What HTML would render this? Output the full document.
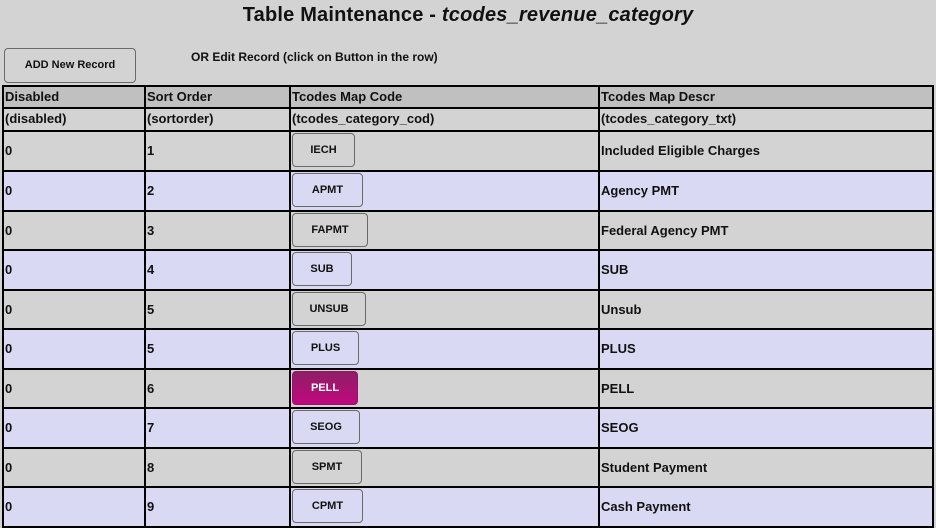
<!DOCTYPE html>
<html><head><style>
body{margin:0;width:936px;height:528px;background:#d3d3d3;font-family:"Liberation Sans",sans-serif;position:relative;overflow:hidden;color:#111}
.a{position:absolute}
.t{font-size:13px;font-weight:bold;white-space:nowrap}
.btn{position:absolute;left:292px;height:34px;border:1px solid #6a6a6a;border-radius:4px;box-sizing:border-box;font-size:11px;font-weight:bold;text-align:center;line-height:32px}
.h{position:absolute;background:#000}
</style></head><body>
<div class="a" style="left:0;width:936px;top:4px;text-align:center;font-size:20px;font-weight:bold;letter-spacing:0.2px">Table Maintenance - <i>tcodes_revenue_category</i></div>
<div class="a" style="left:4px;top:48px;width:132px;height:35px;border:1px solid #6a6a6a;border-radius:4px;box-sizing:border-box;font-size:11px;font-weight:bold;text-align:center;line-height:33px">ADD New Record</div>
<div class="a t" style="left:191px;top:50px;font-size:12px">OR Edit Record (click on Button in the row)</div>
<div id="tbl"></div>
<script>
var rows=[130,170,210,249,289,328,368,407,447,486,526];
var data=[["1","IECH","Included Eligible Charges",355],["2","APMT","Agency PMT",363],["3","FAPMT","Federal Agency PMT",368],["4","SUB","SUB",352],["5","UNSUB","Unsub",366],["5","PLUS","PLUS",359],["6","PELL","PELL",358],["7","SEOG","SEOG",360],["8","SPMT","Student Payment",362],["9","CPMT","Cash Payment",363]];
var h='';
h+='<div class="a" style="left:2px;top:86px;width:931px;height:22px;background:#c0c0c0"></div>';
for(var i=0;i<10;i++){
 var y=rows[i],hh=rows[i+1]-y,bg=i%2?'#d9d9f3':'#d3d3d3';
 h+='<div class="a" style="left:2px;top:'+y+'px;width:931px;height:'+hh+'px;background:'+bg+'"></div>';
}
var cols=[2,144,289,598,932];
var hy=[85,107,130].concat(rows.slice(1));
hy.forEach(function(y){h+='<div class="h" style="left:2px;top:'+y+'px;width:932px;height:2px"></div>';});
cols.forEach(function(x){h+='<div class="h" style="left:'+x+'px;top:85px;width:2px;height:443px"></div>';});
var hd=["Disabled","Sort Order","Tcodes Map Code","Tcodes Map Descr"],sd=["(disabled)","(sortorder)","(tcodes_category_cod)","(tcodes_category_txt)"];
for(var c=0;c<4;c++){
 h+='<div class="a t" style="left:'+(cols[c]+3)+'px;top:89px">'+hd[c]+'</div>';
 h+='<div class="a t" style="left:'+(cols[c]+3)+'px;top:111px">'+sd[c]+'</div>';
}
for(var i=0;i<10;i++){
 var y=rows[i],my=Math.round((rows[i]+rows[i+1])/2)-7,d=data[i];
 h+='<div class="a t" style="left:5px;top:'+my+'px">0</div>';
 h+='<div class="a t" style="left:147px;top:'+my+'px">'+d[0]+'</div>';
 h+='<div class="a t" style="left:601px;top:'+my+'px">'+d[2]+'</div>';
 var st=d[1]=='PELL'?'background:linear-gradient(#8e1f66,#c0087e);color:#fff;border-color:#9a1070;':'';
 h+='<div class="btn" style="top:'+(y+3)+'px;width:'+(d[3]-292)+'px;'+st+'">'+d[1]+'</div>';
}
document.getElementById('tbl').innerHTML=h;
</script>
</body></html>
